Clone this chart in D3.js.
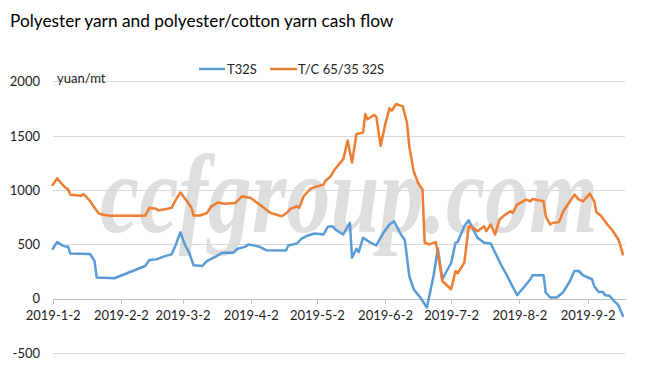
<!DOCTYPE html>
<html>
<head>
<meta charset="utf-8">
<script src="https://cdn.jsdelivr.net/npm/d3@7"></script>
<style>
  html, body { margin: 0; padding: 0; background: #ffffff; }
  svg { display: block; }
</style>
</head>
<body>
<svg id="chart" width="665" height="379"></svg>
<script>
// ---------------- DATA ----------------
const chartTitle = "Polyester yarn and polyester/cotton yarn cash flow";
const unitLabel = "yuan/mt";
const seriesNames = ["T32S", "T/C 65/35 32S"];

const t32sDates = [
  "2019-01-02","2019-01-04","2019-01-07","2019-01-09","2019-01-10","2019-01-19","2019-01-21","2019-01-22","2019-01-30",
  "2019-02-13","2019-02-15","2019-02-18","2019-02-22","2019-02-25","2019-02-27",
  "2019-03-01","2019-03-03","2019-03-05","2019-03-07","2019-03-11","2019-03-13","2019-03-17","2019-03-20","2019-03-25","2019-03-27","2019-03-30",
  "2019-04-01","2019-04-06","2019-04-09","2019-04-18","2019-04-19","2019-04-23","2019-04-25","2019-04-28",
  "2019-05-01","2019-05-05","2019-05-07","2019-05-09","2019-05-11","2019-05-14","2019-05-17","2019-05-18","2019-05-20","2019-05-21","2019-05-23","2019-05-26","2019-05-29",
  "2019-06-01","2019-06-04","2019-06-06","2019-06-07","2019-06-09","2019-06-11","2019-06-13","2019-06-15","2019-06-18","2019-06-21","2019-06-24","2019-06-26","2019-06-28","2019-06-30",
  "2019-07-02","2019-07-04","2019-07-05","2019-07-08","2019-07-10","2019-07-12","2019-07-14","2019-07-17","2019-07-20","2019-07-22","2019-07-25","2019-07-27","2019-07-30",
  "2019-08-01","2019-08-02","2019-08-04","2019-08-07","2019-08-08","2019-08-13","2019-08-14","2019-08-16","2019-08-19","2019-08-22","2019-08-25","2019-08-27","2019-08-29","2019-08-31",
  "2019-09-04","2019-09-05","2019-09-07","2019-09-09","2019-09-10","2019-09-12","2019-09-14","2019-09-16","2019-09-18"
];
const t32sValues = [
  462,523,486,480,419,413,348,196,190,
  303,358,364,394,410,502,
  614,502,425,309,303,348,389,425,425,462,477,
  502,480,449,445,492,511,554,584,
  602,593,664,669,630,593,700,380,462,431,563,523,492,
  602,685,715,680,600,540,211,89,13,-79,211,462,181,257,
  330,517,523,669,724,639,563,517,511,425,303,230,110,
  34,59,105,181,217,217,59,13,13,64,165,257,257,217,
  181,119,64,64,34,28,-18,-58,-156
];

const tcDates = [
  "2019-01-02","2019-01-04","2019-01-07","2019-01-08","2019-01-09","2019-01-10","2019-01-15","2019-01-16","2019-01-17","2019-01-19","2019-01-21","2019-01-23","2019-01-25","2019-01-28",
  "2019-02-13","2019-02-15","2019-02-18","2019-02-19","2019-02-22","2019-02-25","2019-02-27",
  "2019-03-01","2019-03-04","2019-03-06","2019-03-07","2019-03-10","2019-03-13","2019-03-15","2019-03-18","2019-03-21","2019-03-26","2019-03-29",
  "2019-04-02","2019-04-07","2019-04-11","2019-04-16","2019-04-18","2019-04-20","2019-04-23","2019-04-24","2019-04-26","2019-04-29",
  "2019-05-02","2019-05-05","2019-05-06","2019-05-08","2019-05-10","2019-05-14","2019-05-16","2019-05-18","2019-05-20","2019-05-23","2019-05-24","2019-05-25","2019-05-28","2019-05-29","2019-05-31",
  "2019-06-02","2019-06-04","2019-06-05","2019-06-07","2019-06-09","2019-06-10","2019-06-12","2019-06-13","2019-06-15","2019-06-17","2019-06-19","2019-06-20","2019-06-22","2019-06-25","2019-06-26","2019-06-28",
  "2019-07-02","2019-07-04","2019-07-05","2019-07-08","2019-07-10","2019-07-12","2019-07-14","2019-07-17","2019-07-18","2019-07-20","2019-07-22","2019-07-24","2019-07-26","2019-07-29","2019-07-30",
  "2019-08-01","2019-08-05","2019-08-07","2019-08-08","2019-08-13","2019-08-14","2019-08-16","2019-08-17","2019-08-20","2019-08-22","2019-08-27","2019-08-29","2019-08-31",
  "2019-09-03","2019-09-05","2019-09-06","2019-09-08","2019-09-11","2019-09-13","2019-09-16","2019-09-17","2019-09-18"
];
const tcValues = [
  1050,1110,1040,1020,1010,960,950,965,945,900,840,785,775,765,
  765,840,830,815,825,838,915,
  980,900,840,768,768,790,850,888,877,884,945,
  930,853,792,761,786,829,853,838,945,1012,
  1036,1052,1091,1122,1189,1287,1458,1256,1519,1531,1703,1654,1694,1678,1409,
  1602,1755,1733,1795,1780,1775,1617,1403,1174,1067,1006,517,502,523,425,165,
  89,257,236,334,669,655,624,669,624,685,593,731,767,807,792,
  868,914,899,920,899,761,685,700,707,807,960,914,899,
  969,899,798,767,685,639,547,486,410
];

const xTickLabels = ["2019-1-2","2019-2-2","2019-3-2","2019-4-2","2019-5-2","2019-6-2","2019-7-2","2019-8-2","2019-9-2"];
const yTickValues = [-500, 0, 500, 1000, 1500, 2000];
const xDomainLabels = ["2019-1-2", "2019-9-19"];

// ---------------- CHART ----------------
const svg = d3.select("#chart");
const font = "Lato, 'Open Sans', sans-serif";
const colors = ["#5B9BD5", "#ED7D31"];

const parse = d3.timeParse("%Y-%m-%d");
const fmt = d3.timeFormat("%Y-%-m-%-d");

const x = d3.scaleTime()
  .domain(xDomainLabels.map(parse))
  .range([52.7, 625]);
const y = d3.scaleLinear().domain([-500, 2000]).range([353.2, 81.7]);

// title
svg.append("text")
  .attr("x", 10).attr("y", 27)
  .attr("font-family", font).attr("font-size", 17.3)
  .attr("fill", "#000")
  .text(chartTitle);

// gridlines
svg.append("g").selectAll("line")
  .data(yTickValues.filter(v => v !== 0))
  .join("line")
  .attr("x1", x.range()[0]).attr("x2", x.range()[1])
  .attr("y1", d => y(d)).attr("y2", d => y(d))
  .attr("stroke", "#d9d9d9").attr("stroke-width", 1).attr("shape-rendering", "crispEdges");

// y labels
svg.append("g").selectAll("text")
  .data(yTickValues)
  .join("text")
  .attr("x", 40).attr("y", d => y(d))
  .attr("dy", "0.35em")
  .attr("text-anchor", "end")
  .attr("font-family", font).attr("font-size", 13)
  .attr("fill", "#222")
  .text(d => d);

// unit label
svg.append("text")
  .attr("x", 57).attr("y", 83)
  .attr("font-family", font).attr("font-size", 13)
  .attr("fill", "#222")
  .text(unitLabel);

// watermark (horizontally condensed)
const wm = svg.append("text")
  .attr("font-family", "'Liberation Serif', 'DejaVu Serif', serif")
  .attr("font-style", "italic")
  .attr("font-weight", "bold")
  .attr("font-size", 112)
  .attr("fill", "#d9d9d9")
  .attr("opacity", 0.85)
  .text("ccfgroup.com");
const wmW = wm.node().getComputedTextLength();
wm.attr("transform", `translate(100,232) scale(${498 / wmW},1)`);

// x axis at zero
const xAxis = d3.axisBottom(x)
  .tickValues(xTickLabels.map(s => d3.timeParse("%Y-%m-%d")(s)))
  .tickFormat(fmt)
  .tickSizeInner(5).tickSizeOuter(0)
  .tickPadding(7);
const gx = svg.append("g")
  .attr("transform", `translate(0,${y(0)})`)
  .call(xAxis);
gx.select(".domain").attr("stroke", "#bfbfbf").attr("shape-rendering", "crispEdges");
gx.selectAll(".tick line").attr("stroke", "#bfbfbf").attr("shape-rendering", "crispEdges");
gx.selectAll(".tick text")
  .attr("font-family", font).attr("font-size", 13).attr("fill", "#222");

// lines
const line = d3.line()
  .x(d => x(d.date))
  .y(d => y(d.value))
  .curve(d3.curveLinear);

const series = [
  { name: seriesNames[0], dates: t32sDates, values: t32sValues },
  { name: seriesNames[1], dates: tcDates, values: tcValues }
];
series.forEach((s, i) => {
  const pts = s.dates.map((d, j) => ({ date: parse(d), value: s.values[j] }));
  svg.append("path")
    .datum(pts)
    .attr("d", line)
    .attr("fill", "none")
    .attr("stroke", colors[i])
    .attr("stroke-width", 2.5)
    .attr("stroke-linejoin", "round")
    .attr("stroke-linecap", "round");
});

// legend
const legendItems = [
  { name: seriesNames[0], x1: 199, x2: 225, tx: 227 },
  { name: seriesNames[1], x1: 270, x2: 297, tx: 298 }
];
legendItems.forEach((it, i) => {
  svg.append("line")
    .attr("x1", it.x1).attr("x2", it.x2).attr("y1", 69).attr("y2", 69)
    .attr("stroke", colors[i]).attr("stroke-width", 2.5);
  svg.append("text")
    .attr("x", it.tx).attr("y", 69).attr("dy", "0.35em")
    .attr("font-family", font).attr("font-size", 13).attr("fill", "#222")
    .text(it.name);
});
</script>
</body>
</html>
